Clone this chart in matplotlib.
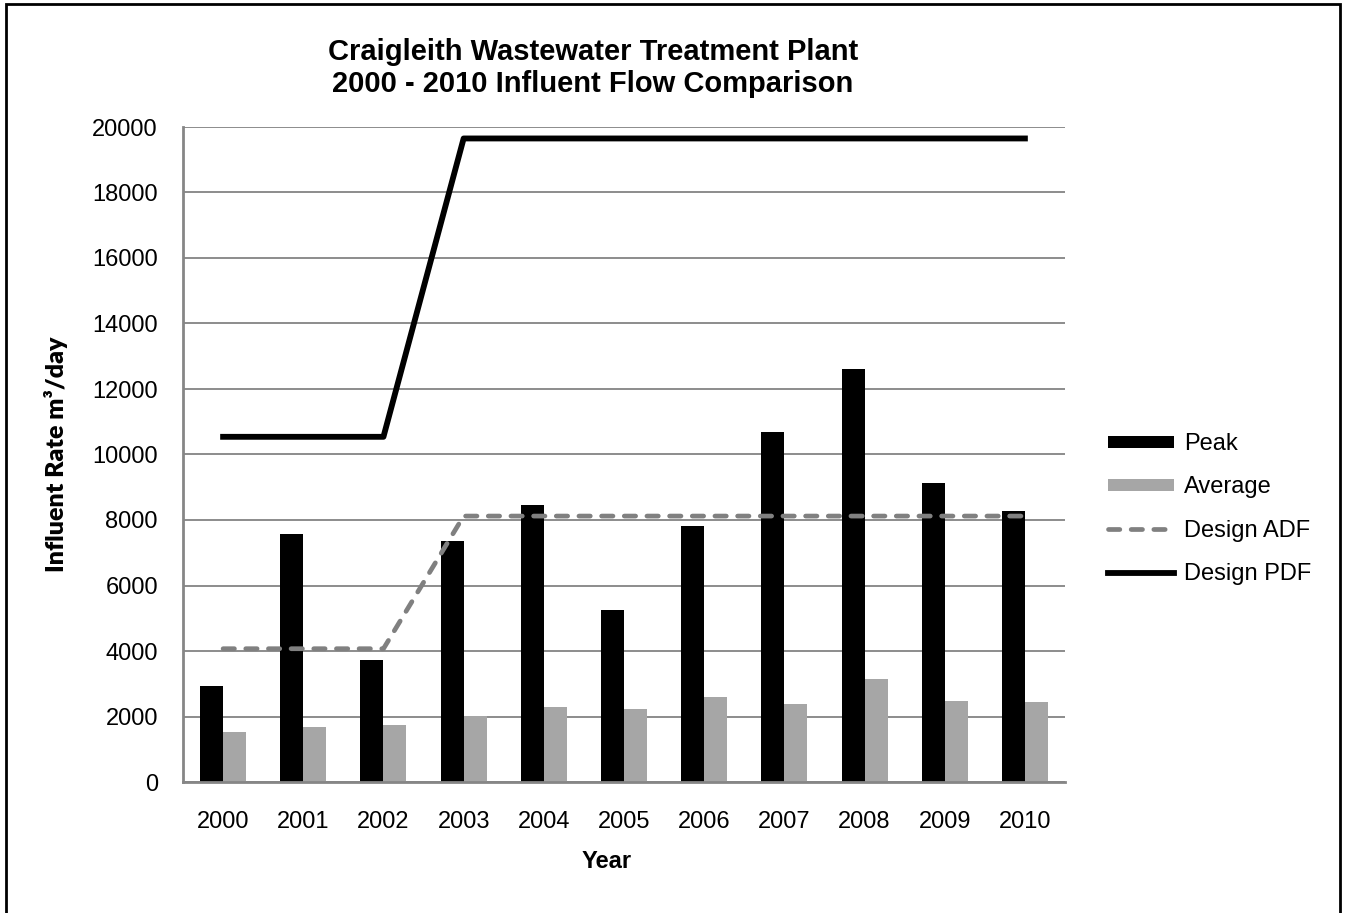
import numpy as np
import matplotlib
matplotlib.use("Agg")
import matplotlib.pyplot as plt
from matplotlib.patches import Rectangle

plt.rcParams['font.family'] = ['Liberation Sans', 'DejaVu Sans']

years = ['2000', '2001', '2002', '2003', '2004', '2005',
         '2006', '2007', '2008', '2009', '2010']
peak = [2920, 7560, 3710, 7350, 8450, 5240, 7810, 10680, 12610, 9120, 8270]
average = [1540, 1690, 1750, 2030, 2300, 2240, 2610, 2390, 3130, 2460, 2430]
design_adf = [4070, 4070, 4070, 8120, 8120, 8120, 8120, 8120, 8120, 8120, 8120]
design_pdf = [10540, 10540, 10540, 19650, 19650, 19650, 19650, 19650, 19650, 19650, 19650]

fig = plt.figure(figsize=(13.46, 9.13), dpi=100)
W, H = 1346, 913
ax = fig.add_axes([183 / W, 1 - 782 / H, (1065 - 183) / W, (782 - 127) / H])

x = np.arange(len(years))
bw = 0.287
b1 = ax.bar(x - bw / 2, peak, bw, color='black', label='Peak', zorder=2)
b2 = ax.bar(x + bw / 2, average, bw, color='#a6a6a6', label='Average', zorder=2)
l1, = ax.plot(x, design_adf, color='#808080', lw=3.4, dashes=(2.4, 2.4),
              dash_capstyle='round', label='Design ADF', zorder=3)
l2, = ax.plot(x, design_pdf, color='black', lw=4.2, label='Design PDF', zorder=3)

ax.set_xlim(-0.5, len(years) - 0.5)
ax.set_ylim(0, 20000)
ax.set_yticks(range(0, 20001, 2000))
ax.set_xticks(x)
ax.set_xticklabels(years)
ax.tick_params(axis='both', length=0, labelsize=17)
ax.tick_params(axis='y', pad=18)
ax.tick_params(axis='x', pad=21)
ax.grid(axis='y', color='#8c8c8c', lw=1.4, zorder=0)
ax.set_axisbelow(True)
for s in ['top', 'right']:
    ax.spines[s].set_visible(False)
for s in ['left', 'bottom']:
    ax.spines[s].set_color('#868686')
    ax.spines[s].set_linewidth(2)

ax.set_xlabel('Year', fontsize=17, fontweight='bold')
ax.xaxis.set_label_coords((607 - 183) / 882, (782 - 850) / 655)
ax.set_ylabel('Influent Rate m³/day', fontsize=18, fontweight='heavy',
              family=['Lato', 'DejaVu Sans'])
ax.yaxis.set_label_coords((68 - 183) / 882, 0.5)

fig.text(593 / W, 1 - 68 / H,
         'Craigleith Wastewater Treatment Plant\n2000 - 2010 Influent Flow Comparison',
         ha='center', va='center', fontsize=21, fontweight='bold', linespacing=1.15)

ax.legend(handles=[b1, b2, l1, l2], loc='upper left',
          bbox_to_anchor=(1087 / W, 1 - 412 / H),
          bbox_transform=fig.transFigure, frameon=False, fontsize=17,
          handlelength=2.8, handleheight=0.42, labelspacing=0.9, handletextpad=0.4)

fig.patches.append(Rectangle((6 / W, -0.1), (1340 - 6) / W, 1.1 - 4 / H,
                             transform=fig.transFigure, fill=False,
                             edgecolor='black', lw=2, clip_on=False))

fig.savefig('out.png', dpi=100)
